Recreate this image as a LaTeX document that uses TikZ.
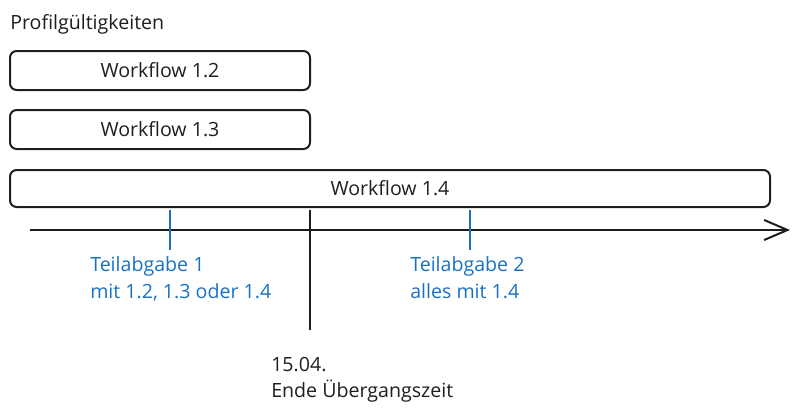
\documentclass[tikz,border=0pt]{standalone}
\usepackage{fontspec}
\setmainfont{Open Sans}
\usetikzlibrary{arrows.meta}
\definecolor{ink}{HTML}{1E1E1E}
\definecolor{blueink}{HTML}{1971C2}
\tikzset{
  wfbox/.style={draw=ink, line width=1.5pt, rounded corners=5pt, inner sep=0pt, text=ink, font=\fontsize{14.7}{17}\selectfont},
  lbl/.style={inner sep=0pt, anchor=base west, font=\fontsize{14.7}{17}\selectfont},
  tickline/.style={line width=1.5pt},
}
\begin{document}
\begin{tikzpicture}[x=0.75pt,y=-0.75pt]
\useasboundingbox (0,0) rectangle (800,414);
\node[lbl, text=ink] (title) at (10,29) {Profilgültigkeiten};
\node[wfbox, minimum width=300*0.75pt, minimum height=39*0.75pt] (w12) at (160,70.5) {Workflow 1.2};
\node[wfbox, minimum width=300*0.75pt, minimum height=39*0.75pt] (w13) at (160,129.5) {Workflow 1.3};
\node[wfbox, minimum width=760*0.75pt, minimum height=37*0.75pt] (w14) at (390,188.5) {Workflow 1.4};
\coordinate (axL) at (30,230);
\coordinate (axR) at (790,230);
\draw[ink, tickline, -{Straight Barb[length=17.5pt,width=15pt,line width=1.5pt]}] (axL) -- (axR);
\coordinate (t1a) at (170,210);
\coordinate (t1b) at (170,250);
\coordinate (t2a) at (470,210);
\coordinate (t2b) at (470,250);
\coordinate (t3a) at (310,210);
\coordinate (t3b) at (310,330);
\draw[blueink, tickline] (t1a) -- (t1b);
\draw[blueink, tickline] (t2a) -- (t2b);
\draw[ink, tickline] (t3a) -- (t3b);
\node[lbl, text=blueink] (ta1) at (90,271) {Teilabgabe 1};
\node[lbl, text=blueink] (ta1b) at (90,298) {mit 1.2, 1.3 oder 1.4};
\node[lbl, text=blueink] (ta2) at (410,271) {Teilabgabe 2};
\node[lbl, text=blueink] (ta2b) at (410,298) {alles mit 1.4};
\node[lbl, text=ink] (d1) at (271,371) {15.04.};
\node[lbl, text=ink] (d2) at (271,397) {Ende Übergangszeit};
\end{tikzpicture}
\end{document}
